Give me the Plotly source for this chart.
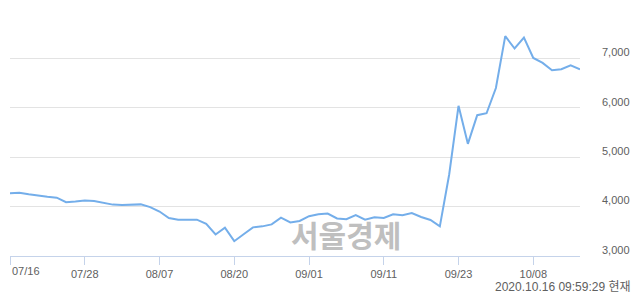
import plotly.graph_objects as go

prices = [4270, 4280, 4250, 4220, 4200, 4180, 4090, 4105, 4125, 4115,
          4075, 4040, 4030, 4045, 4045, 3990, 3900, 3770, 3735, 3735,
          3735, 3650, 3435, 3575, 3300, 3440, 3580, 3600, 3640, 3775,
          3680, 3710, 3805, 3845, 3860, 3760, 3745, 3830, 3735, 3785,
          3770, 3845, 3825, 3870, 3790, 3730, 3600, 4650, 6040, 5270,
          5850, 5890, 6400, 7450, 7200, 7420, 7010, 6910, 6760, 6780,
          6860, 6780]
x_idx = list(range(len(prices)))
tick_pos = [0, 8, 16, 24, 32, 40, 48, 56]
tick_labels = ["07/16", "07/28", "08/07", "08/20", "09/01", "09/11", "09/23", "10/08"]
y_ticks = [3000, 4000, 5000, 6000, 7000, 8000]
y_labels = ["3,000", "4,000", "5,000", "6,000", "7,000", ""]
stamp = "2020.10.16 09:59:29 현재"
watermark = "서울경제"

FONT = "Liberation Sans, Arial, Noto Sans CJK KR, sans-serif"
LABEL_COLOR = "#606060"

fig = go.Figure()
fig.add_trace(go.Scatter(x=x_idx, y=prices, mode="lines",
                         line=dict(color="#74aeea", width=2),
                         hoverinfo="skip"))

fig.update_layout(
    width=640, height=294,
    margin=dict(l=10, r=60, t=9, b=38),
    paper_bgcolor="white", plot_bgcolor="white",
    showlegend=False,
    font=dict(family=FONT, size=11, color=LABEL_COLOR),
    xaxis=dict(range=[0, len(prices) - 1], tickmode="array",
               tickvals=tick_pos,
               ticktext=[""] + tick_labels[1:],
               showgrid=False, zeroline=False,
               showline=True, linecolor="#c5d3ea", linewidth=1,
               ticks="outside", ticklen=8, tickcolor="#c5d3ea", tickwidth=1,
               tickfont=dict(family=FONT, size=11, color=LABEL_COLOR)),
    yaxis=dict(range=[3000, 8000], side="right", tickmode="array",
               tickvals=y_ticks, ticktext=y_labels,
               showgrid=True, gridcolor="#e3e3e3", gridwidth=1,
               zeroline=False, showline=False, ticks="",
               ticklabelstandoff=21, ticklabelshift=-6,
               tickfont=dict(family=FONT, size=11, color=LABEL_COLOR)),
)

fig.add_annotation(x=tick_pos[0], y=-0.0595, xref="x", yref="paper",
                   text=tick_labels[0], showarrow=False,
                   xanchor="left", yanchor="middle",
                   font=dict(family=FONT, size=11, color=LABEL_COLOR))

fig.add_annotation(x=1.093, y=-0.124, xref="paper", yref="paper",
                   text=stamp, showarrow=False,
                   xanchor="right", yanchor="middle",
                   font=dict(family=FONT, size=12, color=LABEL_COLOR))

fig.add_annotation(x=0.589, y=0.091, xref="paper", yref="paper",
                   text="<b>" + watermark + "</b>", showarrow=False,
                   xanchor="center", yanchor="middle",
                   font=dict(family="Noto Sans CJK KR", size=30, color="#bfbfbf"))

fig.write_html("out.html")
